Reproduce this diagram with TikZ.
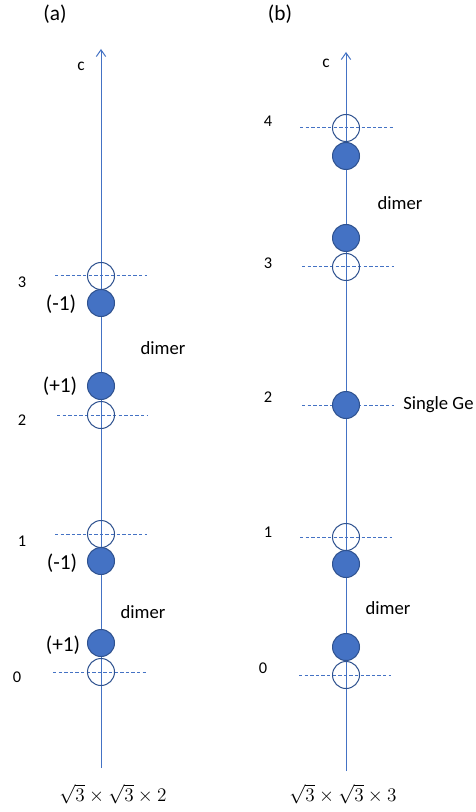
\documentclass[tikz,border=0pt]{standalone}
\usepackage{fontspec}
\setmainfont{Carlito}
\usetikzlibrary{arrows.meta}
\definecolor{axisblue}{HTML}{4472C4}
\definecolor{edgeblue}{HTML}{2F528F}
\begin{document}
\begin{tikzpicture}[x=0.75pt,y=-0.75pt,
  atom/.style={circle,minimum size=20.25pt,inner sep=0pt,draw=edgeblue,line width=0.75pt},
  filledatom/.style={atom,fill=axisblue},
  emptyatom/.style={atom},
  levelline/.style={draw=axisblue,line width=0.75pt,dash pattern=on 2.6pt off 1.6pt},
  axisline/.style={draw=axisblue,line width=0.75pt,-{Straight Barb[length=5pt,width=7pt]}},
  numlab/.style={font=\fontsize{12.3}{14}\selectfont,inner sep=0pt},
  chglab/.style={font=\fontsize{16}{18}\selectfont,inner sep=0pt},
  txtlab/.style={font=\fontsize{14}{16}\selectfont,inner sep=0pt},
  panlab/.style={font=\fontsize{16}{18}\selectfont,inner sep=0pt},
  mathlab/.style={font=\fontsize{14.5}{17}\selectfont,inner sep=0pt}]
\path[use as bounding box] (0,0) rectangle (475,812);
\clip (0,0) rectangle (475,812);
\fill[white] (0,0) rectangle (475,812);

% ---------- panel (a) ----------
\node[panlab] (pa) at (55,14) {(a)};
\node[numlab,font=\fontsize{13}{15}\selectfont] (ca) at (81,66) {c};
\coordinate (abot) at (101,768);
\coordinate (atop) at (101,49);
\draw[axisline] (abot) -- (atop);

\coordinate (a3l) at (55,276); \coordinate (a3r) at (147,276);
\coordinate (a2l) at (57,415); \coordinate (a2r) at (148,415);
\coordinate (a1l) at (55,534); \coordinate (a1r) at (147,534);
\coordinate (a0l) at (53,672); \coordinate (a0r) at (146,672);
\draw[levelline] (a3l) -- (a3r);
\draw[levelline] (a2l) -- (a2r);
\draw[levelline] (a1l) -- (a1r);
\draw[levelline] (a0l) -- (a0r);

\node[emptyatom] (a3o) at (101,276) {};
\node[filledatom] (a3f) at (101,303) {};
\node[filledatom] (a2f) at (101,386) {};
\node[emptyatom] (a2o) at (101,415) {};
\node[emptyatom] (a1o) at (101,534) {};
\node[filledatom] (a1f) at (101,561) {};
\node[filledatom] (a0f) at (101,643) {};
\node[emptyatom] (a0o) at (101,672) {};

\node[numlab] (n3a) at (22,282) {3};
\node[numlab] (n2a) at (22,420) {2};
\node[numlab] (n1a) at (22,541) {1};
\node[numlab] (n0a) at (17,677) {0};

\node[chglab] (q3a) at (61,304) {(-1)};
\node[chglab] (q2a) at (60,386) {(+1)};
\node[chglab] (q1a) at (62,563) {(-1)};
\node[chglab] (q0a) at (63,645) {(+1)};

\node[txtlab] (da1) at (163,348) {dimer};
\node[txtlab] (da0) at (143,612) {dimer};

\node[mathlab] (fa) at (113,794) {$\sqrt{3}\times\sqrt{3}\times 2$};

% ---------- panel (b) ----------
\node[panlab] (pb) at (280,14) {(b)};
\node[numlab,font=\fontsize{13}{15}\selectfont] (cb) at (326,63) {c};
\coordinate (bbot) at (346,771);
\coordinate (btop) at (346,52);
\draw[axisline] (bbot) -- (btop);

\coordinate (b4l) at (300,128); \coordinate (b4r) at (393,128);
\coordinate (b3l) at (302,267); \coordinate (b3r) at (394,267);
\coordinate (b2l) at (302,405); \coordinate (b2r) at (394,405);
\coordinate (b1l) at (300,537); \coordinate (b1r) at (392,537);
\coordinate (b0l) at (299,675); \coordinate (b0r) at (391,675);
\draw[levelline] (b4l) -- (b4r);
\draw[levelline] (b3l) -- (b3r);
\draw[levelline] (b2l) -- (b2r);
\draw[levelline] (b1l) -- (b1r);
\draw[levelline] (b0l) -- (b0r);

\node[emptyatom] (b4o) at (346,128) {};
\node[filledatom] (b4f) at (346,156) {};
\node[filledatom] (b3f) at (346,238) {};
\node[emptyatom] (b3o) at (346,267) {};
\node[filledatom] (b2f) at (346,405) {};
\node[emptyatom] (b1o) at (346,537) {};
\node[filledatom] (b1f) at (346,564) {};
\node[filledatom] (b0f) at (346,647) {};
\node[emptyatom] (b0o) at (346,675) {};

\node[numlab] (n4b) at (268,121) {4};
\node[numlab] (n3b) at (268,263) {3};
\node[numlab] (n2b) at (268,397) {2};
\node[numlab] (n1b) at (268,532) {1};
\node[numlab] (n0b) at (263,668) {0};

\node[txtlab] (db1) at (400,203) {dimer};
\node[txtlab] (db0) at (388,608) {dimer};
\node[txtlab,anchor=west] (sg) at (403,405) {Single Ge};

\node[mathlab] (fb) at (343,794) {$\sqrt{3}\times\sqrt{3}\times 3$};
\end{tikzpicture}
\end{document}
